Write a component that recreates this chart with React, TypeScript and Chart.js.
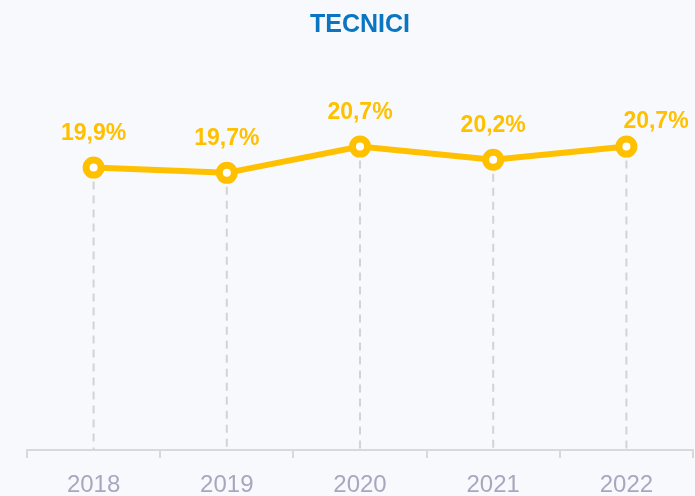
import React, { useEffect, useRef } from "react";
import { Chart, registerables } from "chart.js";

Chart.register(...registerables);

const title = "TECNICI";
const categories = ["2018", "2019", "2020", "2021", "2022"];
const values = [19.9, 19.7, 20.7, 20.2, 20.7];
const labels = ["19,9%", "19,7%", "20,7%", "20,2%", "20,7%"];

const YELLOW = "#FFC000";
const BG = "#F8F9FD";

const dropLinesPlugin = {
  id: "dropLines",
  beforeDatasetsDraw(chart: any) {
    const { ctx, chartArea } = chart;
    const meta = chart.getDatasetMeta(0);
    ctx.save();
    ctx.strokeStyle = "#D3D3D6";
    ctx.lineWidth = 2;
    ctx.setLineDash([8, 6]);
    meta.data.forEach((pt: any) => {
      ctx.beginPath();
      ctx.moveTo(pt.x, pt.y);
      ctx.lineTo(pt.x, chartArea.bottom);
      ctx.stroke();
    });
    ctx.restore();
  },
};

const labelsPlugin = {
  id: "valueLabels",
  afterDatasetsDraw(chart: any) {
    const { ctx } = chart;
    const meta = chart.getDatasetMeta(0);
    ctx.save();
    ctx.fillStyle = YELLOW;
    ctx.font = "bold 23px 'Liberation Sans', Arial, sans-serif";
    ctx.textBaseline = "alphabetic";
    meta.data.forEach((pt: any, i: number) => {
      const last = i === meta.data.length - 1;
      if (last) {
        ctx.textAlign = "left";
        ctx.fillText(labels[i], pt.x - 3, pt.y - 19);
      } else {
        ctx.textAlign = "center";
        ctx.fillText(labels[i], pt.x, pt.y - 28);
      }
    });
    ctx.restore();
  },
};

const titlePlugin = {
  id: "areaTitle",
  afterDraw(chart: any) {
    const { ctx, chartArea } = chart;
    ctx.save();
    ctx.fillStyle = "#0A75C2";
    ctx.font = "bold 25px 'Liberation Sans', Arial, sans-serif";
    ctx.textAlign = "center";
    ctx.textBaseline = "alphabetic";
    ctx.fillText(title, (chartArea.left + chartArea.right) / 2, 32);
    ctx.restore();
  },
};

export default function App() {
  const ref = useRef<HTMLCanvasElement | null>(null);

  useEffect(() => {
    if (!ref.current) return;
    const chart = new Chart(ref.current, {
      type: "line",
      data: {
        labels: categories,
        datasets: [
          {
            data: values,
            borderColor: YELLOW,
            borderWidth: 6,
            pointRadius: 7.5,
            pointBorderWidth: 7,
            pointBackgroundColor: "#FFFFFF",
            pointBorderColor: YELLOW,
            tension: 0,
            clip: false as any,
          },
        ],
      },
      options: {
        animation: false,
        responsive: false,
        maintainAspectRatio: false,
        layout: { autoPadding: false, padding: { left: 27, right: 2, top: 60, bottom: 0 } },
        plugins: {
          legend: { display: false },
          tooltip: { enabled: false },
          title: { display: false },
        },
        scales: {
          x: {
            offset: true,
            afterFit: (scale: any) => {
              scale.height = 46;
              scale.paddingLeft = 0;
              scale.paddingRight = 0;
            },
            grid: {
              offset: true,
              drawOnChartArea: false,
              drawTicks: true,
              tickLength: 8,
              color: "#D9D9DC",
              lineWidth: 2,
            },
            border: { display: true, color: "#D9D9DC", width: 2 },
            ticks: {
              color: "#A7A8BE",
              padding: 13,
              font: { size: 24, family: "'Liberation Sans', Arial, sans-serif" },
            },
          },
          y: {
            display: false,
            min: 9.14,
            max: 24,
          },
        },
      },
      plugins: [dropLinesPlugin, labelsPlugin, titlePlugin],
    });
    return () => chart.destroy();
  }, []);

  return (
    <div style={{ position: "fixed", left: 0, top: 0, width: 695, height: 496, background: BG }}>
      <canvas ref={ref} width={695} height={496} style={{ display: "block" }} />
    </div>
  );
}
